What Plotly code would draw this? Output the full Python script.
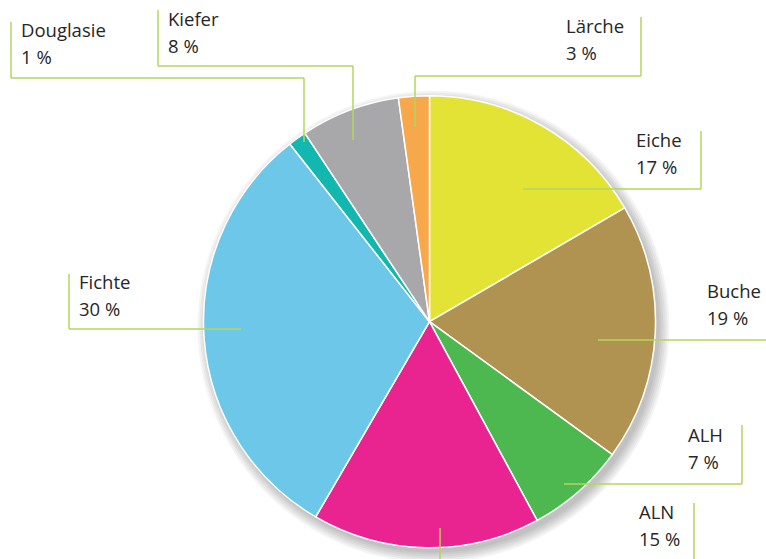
import plotly.graph_objects as go

# ---- data ----
species = ["Eiche", "Buche", "ALH", "ALN", "Fichte", "Douglasie", "Kiefer", "Lärche"]
shares = [16.6, 18.4, 7.1, 16.3, 31.0, 1.3, 7.1, 2.2]          # slice sizes
share_labels = ["17 %", "19 %", "7 %", "15 %", "30 %", "1 %", "8 %", "3 %"]
colors = ["#E3E336", "#B09350", "#4CB84F", "#E92490", "#6DC7E9", "#12B8B0", "#A8A8AB", "#F7A84A"]

# ---- layout (pixels, in window coordinates) ----
W, H = 766, 559
CX, CY, R = 429.5, 321.7, 226
FS = 18.5

def px(x):
    return x / W

def py(y):
    return 1 - y / H

def dom(cx, cy, r):
    return dict(x=[px(cx - r), px(cx + r)], y=[py(cy + r), py(cy - r)])

# label text anchor (left x, baseline of first line)
label_pos = {
    "Douglasie": (22, 37),
    "Kiefer": (169, 26),
    "Lärche": (567, 33),
    "Eiche": (637, 147),
    "Buche": (708, 298),
    "ALH": (689, 442),
    "ALN": (640, 519),
    "Fichte": (80, 289),
}
# leader paths (pixel polylines)
leaders = {
    "Douglasie": [(11, 22), (11, 78), (304, 78), (304, 142)],
    "Kiefer": [(158, 10), (158, 66), (353, 66), (353, 140)],
    "Lärche": [(641, 17), (641, 76), (415, 76), (415, 127)],
    "Eiche": [(701, 131), (701, 189), (523, 189)],
    "Buche": [(766, 340), (598, 340)],
    "ALH": [(742, 425), (742, 484), (564, 484)],
    "ALN": [(694, 503), (694, 559)],
    "ALN2": [(440, 528), (440, 559)],
    "Fichte": [(69, 274), (69, 329), (241, 329)],
}

fig = go.Figure()

fig.add_trace(go.Pie(
    labels=species, values=shares, sort=False, direction="clockwise", rotation=0,
    marker=dict(colors=colors, line=dict(color="white", width=1.5)),
    textinfo="none", showlegend=False,
    customdata=share_labels, hovertemplate="%{label}: %{customdata}<extra></extra>",
    domain=dom(CX, CY, R),
))

shapes = []
# soft shadow (stacked translucent discs, below the pie)
for s in [10, 8, 6, 4, 2, 0]:
    shapes.append(dict(type="circle", xref="paper", yref="paper", layer="below",
                       x0=px(CX + 4 - R - s), x1=px(CX + 4 + R + s),
                       y0=py(CY + 5 + R + s), y1=py(CY + 5 - R - s),
                       fillcolor="rgba(0,0,0,0.045)", line=dict(width=0)))

LINE = "#B3D65C"
for pts in leaders.values():
    for (x0, y0), (x1, y1) in zip(pts[:-1], pts[1:]):
        shapes.append(dict(type="line", xref="paper", yref="paper",
                           x0=px(x0), y0=py(y0), x1=px(x1), y1=py(y1),
                           line=dict(color=LINE, width=1.5)))

annotations = []
font = dict(family="Open Sans, Roboto, Arial, sans-serif", size=FS, color="#262626")
for name, lab in zip(species, share_labels):
    x, b = label_pos[name]
    for i, t in enumerate([name, lab]):
        annotations.append(dict(
            x=px(x - 3), y=py(b + 27 * i - 0.39 * FS), xref="paper", yref="paper",
            text=t, showarrow=False, xanchor="left", yanchor="middle", font=font,
        ))

fig.update_layout(
    width=W, height=H, margin=dict(l=0, r=0, t=0, b=0),
    paper_bgcolor="white", plot_bgcolor="white",
    shapes=shapes, annotations=annotations, showlegend=False,
)

fig.write_html(
    "out.html",
    config={"displayModeBar": False},
    post_script="document.body.style.margin='0';document.body.style.overflow='hidden';",
)
